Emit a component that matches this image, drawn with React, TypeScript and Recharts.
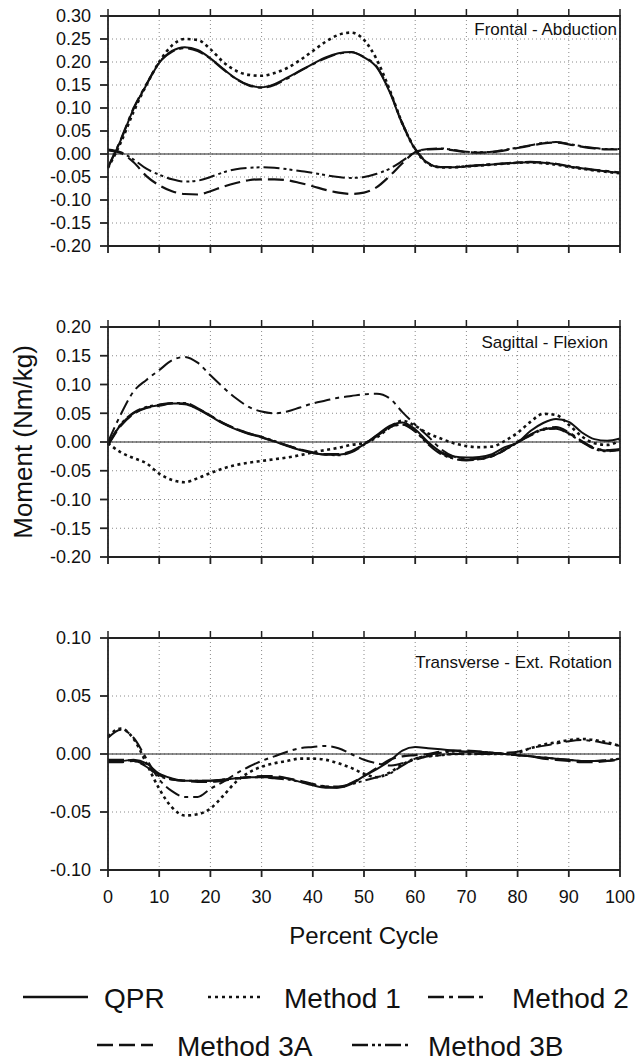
import { CartesianGrid, Line, LineChart, ReferenceLine, XAxis, YAxis } from "recharts"

const pct = [
  0, 2.5, 5, 7.5, 10, 12.5, 15, 17.5, 20, 22.5, 25, 27.5, 30, 32.5, 35, 37.5, 40, 42.5, 45, 47.5, 50,
  52.5, 55, 57.5, 60, 62.5, 65, 67.5, 70, 72.5, 75, 77.5, 80, 82.5, 85, 87.5, 90, 92.5, 95, 97.5, 100,
]
const xTicks = [0, 10, 20, 30, 40, 50, 60, 70, 80, 90, 100]

// Frontal - Abduction
const frontalQPR = [-0.030, 0.030, 0.098, 0.150, 0.198, 0.224, 0.232, 0.226, 0.208, 0.185, 0.164, 0.150, 0.145, 0.152, 0.166, 0.181, 0.196, 0.210, 0.219, 0.222, 0.210, 0.188, 0.135, 0.065, 0.010, -0.020, -0.029, -0.029, -0.027, -0.025, -0.023, -0.021, -0.019, -0.018, -0.019, -0.022, -0.027, -0.031, -0.035, -0.038, -0.041]
const frontalM1 = [-0.030, 0.025, 0.092, 0.150, 0.200, 0.236, 0.250, 0.248, 0.228, 0.200, 0.181, 0.172, 0.170, 0.176, 0.187, 0.204, 0.224, 0.244, 0.259, 0.264, 0.248, 0.205, 0.140, 0.066, 0.010, -0.021, -0.029, -0.029, -0.027, -0.025, -0.023, -0.021, -0.019, -0.018, -0.020, -0.023, -0.028, -0.032, -0.036, -0.039, -0.042]
const frontalM2 = [-0.028, 0.032, 0.100, 0.152, 0.199, 0.222, 0.230, 0.224, 0.207, 0.184, 0.163, 0.149, 0.144, 0.150, 0.164, 0.180, 0.195, 0.208, 0.218, 0.221, 0.211, 0.190, 0.137, 0.067, 0.012, -0.019, -0.028, -0.028, -0.026, -0.024, -0.022, -0.020, -0.018, -0.017, -0.018, -0.021, -0.026, -0.030, -0.034, -0.037, -0.040]
const frontalM3A = [0.008, 0.002, -0.018, -0.048, -0.068, -0.081, -0.087, -0.088, -0.081, -0.071, -0.063, -0.057, -0.055, -0.055, -0.057, -0.063, -0.070, -0.078, -0.084, -0.087, -0.084, -0.072, -0.048, -0.020, 0.004, 0.010, 0.011, 0.008, 0.004, 0.003, 0.004, 0.008, 0.013, 0.018, 0.023, 0.025, 0.021, 0.016, 0.012, 0.010, 0.010]
const frontalM3B = [0.010, 0.004, -0.012, -0.032, -0.045, -0.055, -0.060, -0.058, -0.050, -0.040, -0.033, -0.030, -0.029, -0.030, -0.033, -0.037, -0.041, -0.046, -0.050, -0.052, -0.050, -0.043, -0.032, -0.015, 0.004, 0.011, 0.012, 0.009, 0.005, 0.004, 0.005, 0.009, 0.014, 0.019, 0.024, 0.026, 0.022, 0.017, 0.013, 0.011, 0.011]

// Sagittal - Flexion
const sagQPR = [-0.005, 0.030, 0.050, 0.060, 0.064, 0.067, 0.067, 0.057, 0.045, 0.032, 0.022, 0.014, 0.008, 0.001, -0.007, -0.014, -0.019, -0.022, -0.022, -0.017, -0.004, 0.012, 0.028, 0.034, 0.022, 0.000, -0.017, -0.025, -0.027, -0.026, -0.021, -0.009, -0.001, 0.019, 0.033, 0.040, 0.035, 0.017, 0.005, 0.002, 0.006]
const sagM1 = [-0.002, -0.018, -0.028, -0.037, -0.055, -0.066, -0.070, -0.063, -0.054, -0.046, -0.040, -0.036, -0.033, -0.030, -0.027, -0.023, -0.018, -0.014, -0.010, -0.005, -0.002, 0.008, 0.025, 0.037, 0.028, 0.015, 0.006, -0.002, -0.007, -0.009, -0.008, 0.002, 0.016, 0.035, 0.049, 0.047, 0.030, 0.010, -0.002, -0.005, 0.003]
const sagM2 = [0.000, 0.048, 0.088, 0.108, 0.125, 0.142, 0.148, 0.138, 0.116, 0.095, 0.076, 0.061, 0.053, 0.050, 0.053, 0.060, 0.067, 0.072, 0.077, 0.080, 0.083, 0.084, 0.076, 0.052, 0.030, 0.010, -0.012, -0.025, -0.030, -0.029, -0.025, -0.014, 0.001, 0.013, 0.023, 0.026, 0.017, 0.002, -0.010, -0.014, -0.012]
const sagM3A = [-0.006, 0.028, 0.049, 0.059, 0.063, 0.067, 0.066, 0.058, 0.046, 0.033, 0.023, 0.015, 0.008, 0.001, -0.006, -0.013, -0.018, -0.021, -0.021, -0.016, -0.004, 0.011, 0.026, 0.031, 0.019, -0.002, -0.019, -0.028, -0.031, -0.030, -0.024, -0.013, 0.000, 0.012, 0.022, 0.024, 0.015, 0.001, -0.011, -0.015, -0.013]
const sagM3B = [-0.004, 0.031, 0.051, 0.061, 0.065, 0.068, 0.068, 0.059, 0.046, 0.033, 0.023, 0.015, 0.009, 0.002, -0.006, -0.013, -0.019, -0.022, -0.023, -0.018, -0.005, 0.010, 0.025, 0.030, 0.018, -0.004, -0.021, -0.029, -0.032, -0.030, -0.025, -0.014, -0.001, 0.011, 0.021, 0.023, 0.014, 0.000, -0.012, -0.016, -0.014]

// Transverse - Ext. Rotation
const trQPR = [-0.006, -0.006, -0.005, -0.008, -0.017, -0.021, -0.023, -0.023, -0.023, -0.022, -0.021, -0.020, -0.020, -0.020, -0.021, -0.024, -0.027, -0.029, -0.029, -0.026, -0.019, -0.013, -0.006, 0.003, 0.006, 0.005, 0.004, 0.003, 0.002, 0.002, 0.001, 0.000, -0.001, -0.002, -0.003, -0.004, -0.005, -0.006, -0.006, -0.006, -0.004]
const trM1 = [0.015, 0.022, 0.013, -0.008, -0.030, -0.046, -0.053, -0.052, -0.047, -0.036, -0.024, -0.016, -0.011, -0.008, -0.006, -0.004, -0.004, -0.005, -0.008, -0.012, -0.017, -0.020, -0.016, -0.009, -0.004, -0.002, -0.001, 0.000, 0.000, 0.000, 0.000, 0.000, 0.001, 0.005, 0.008, 0.010, 0.012, 0.013, 0.012, 0.010, 0.007]
const trM2 = [0.014, 0.021, 0.014, -0.004, -0.022, -0.032, -0.037, -0.037, -0.030, -0.024, -0.017, -0.011, -0.006, -0.002, 0.002, 0.005, 0.006, 0.007, 0.005, 0.000, -0.005, -0.008, -0.010, -0.008, -0.005, -0.002, -0.001, 0.000, 0.000, 0.000, 0.000, 0.001, 0.002, 0.005, 0.007, 0.009, 0.011, 0.012, 0.011, 0.009, 0.007]
const trM3A = [-0.007, -0.007, -0.006, -0.010, -0.018, -0.022, -0.023, -0.024, -0.024, -0.023, -0.021, -0.020, -0.019, -0.019, -0.021, -0.023, -0.026, -0.028, -0.029, -0.025, -0.019, -0.012, -0.005, -0.002, -0.001, 0.000, 0.002, 0.003, 0.003, 0.002, 0.001, 0.000, -0.001, -0.002, -0.004, -0.005, -0.006, -0.007, -0.007, -0.006, -0.005]
const trM3B = [-0.005, -0.005, -0.006, -0.011, -0.019, -0.022, -0.023, -0.023, -0.023, -0.022, -0.021, -0.020, -0.020, -0.021, -0.022, -0.024, -0.026, -0.028, -0.028, -0.026, -0.023, -0.020, -0.017, -0.010, -0.004, -0.001, 0.001, 0.002, 0.002, 0.002, 0.001, 0.000, -0.001, -0.002, -0.003, -0.004, -0.005, -0.006, -0.006, -0.005, -0.004]

const frontalTicks = [0.3, 0.25, 0.2, 0.15, 0.1, 0.05, 0, -0.05, -0.1, -0.15, -0.2]
const sagTicks = [0.2, 0.15, 0.1, 0.05, 0, -0.05, -0.1, -0.15, -0.2]
const trTicks = [0.1, 0.05, 0, -0.05, -0.1]

const seriesNames = ["QPR", "Method 1", "Method 2", "Method 3A", "Method 3B"]
const dashes = ["", "3 3.5", "16 5 4 5", "16 6", "16 4 3 3 3 4"]
const widths = [2, 2.6, 2, 2.2, 2]

const FONT = "'Liberation Sans', Arial, Helvetica, sans-serif"

// layout, page pixels
const PLOT_LEFT = 108
const PLOT_RIGHT = 620
const PANEL_TOP = 16
const panels = [
  { top: 0, plotH: 230 },
  { top: 311, plotH: 230 },
  { top: 622, plotH: 232 },
]

function table(cols: number[][]) {
  return pct.map((p, i) => {
    const row: Record<string, number> = { pct: p }
    cols.forEach((c, k) => (row[seriesNames[k]] = c[i]))
    return row
  })
}

type PanelProps = {
  cols: number[][]
  yTicks: number[]
  top: number
  plotH: number
  showX: boolean
}

function Panel({ cols, yTicks, top, plotH, showX }: PanelProps) {
  const bottomH = showX ? 40 : 14
  const data = table(cols)
  const lo = yTicks[yTicks.length - 1]
  const hi = yTicks[0]
  return (
    <div style={{ position: "absolute", left: 0, top }}>
      <LineChart
        width={636}
        height={PANEL_TOP + plotH + bottomH}
        data={data}
        margin={{ top: PANEL_TOP, right: 636 - PLOT_RIGHT, bottom: 0, left: 0 }}
      >
        <CartesianGrid stroke="#8a8a8a" strokeDasharray="1 3" />
        <XAxis
          dataKey="pct"
          type="number"
          domain={[0, 100]}
          ticks={xTicks}
          height={bottomH}
          tickSize={7}
          tickMargin={13}
          stroke="#222"
          strokeWidth={1.8}
          interval={0}
          tick={{ fill: "#111", fontSize: 18, fontFamily: FONT }}
          tickFormatter={(v) => (showX ? String(v) : "")}
        />
        <YAxis
          type="number"
          domain={[lo, hi]}
          ticks={yTicks}
          width={PLOT_LEFT}
          tickSize={8}
          tickMargin={9}
          stroke="#222"
          strokeWidth={1.8}
          interval={0}
          tick={{ fill: "#111", fontSize: 18, fontFamily: FONT }}
          tickFormatter={(v: number) => v.toFixed(2)}
        />
        <ReferenceLine y={0} stroke="#222" strokeWidth={1.2} />
        {seriesNames.map((name, k) => (
          <Line
            key={name}
            type="monotone"
            dataKey={name}
            stroke="#111"
            strokeWidth={widths[k]}
            strokeDasharray={dashes[k] || undefined}
            dot={false}
            activeDot={false}
            isAnimationActive={false}
          />
        ))}
      </LineChart>
    </div>
  )
}

function Frames() {
  const xAt = (v: number) => PLOT_LEFT + ((PLOT_RIGHT - PLOT_LEFT) * v) / 100
  return (
    <>
      {panels.map((p, i) => {
        const y0 = p.top + PANEL_TOP
        return (
          <g key={i}>
            <path
              d={`M${PLOT_LEFT},${y0} H${PLOT_RIGHT} V${y0 + p.plotH}`}
              fill="none"
              stroke="#222"
              strokeWidth={1.8}
            />
            {xTicks.map((t) => (
              <line key={t} x1={xAt(t)} x2={xAt(t)} y1={y0 - 7} y2={y0} stroke="#222" strokeWidth={1.5} />
            ))}
          </g>
        )
      })}
    </>
  )
}

function Legend() {
  const row1 = 997
  const row2 = 1045
  const items = [
    { x1: 23, x2: 88, tx: 104, y: row1, k: 0 },
    { x1: 208, x2: 264, tx: 284, y: row1, k: 1 },
    { x1: 428, x2: 488, tx: 512, y: row1, k: 2 },
    { x1: 97, x2: 153, tx: 177, y: row2, k: 3 },
    { x1: 352, x2: 410, tx: 428, y: row2, k: 4 },
  ]
  return (
    <>
      {items.map((it) => (
        <g key={it.k}>
          <line
            x1={it.x1}
            x2={it.x2}
            y1={it.y}
            y2={it.y}
            stroke="#111"
            strokeWidth={2.4}
            strokeDasharray={dashes[it.k] ? (it.k === 1 ? "3 4" : dashes[it.k]) : undefined}
          />
          <text x={it.tx} y={it.y + 11} fontSize={28} fill="#111" fontFamily={FONT}>
            {seriesNames[it.k]}
          </text>
        </g>
      ))}
    </>
  )
}

export default function App() {
  return (
    <div style={{ position: "absolute", left: 0, top: 0, width: 636, height: 1062, background: "#fff" }}>
      <Panel cols={[frontalQPR, frontalM1, frontalM2, frontalM3A, frontalM3B]} yTicks={frontalTicks} top={panels[0].top} plotH={panels[0].plotH} showX={false} />
      <Panel cols={[sagQPR, sagM1, sagM2, sagM3A, sagM3B]} yTicks={sagTicks} top={panels[1].top} plotH={panels[1].plotH} showX={false} />
      <Panel cols={[trQPR, trM1, trM2, trM3A, trM3B]} yTicks={trTicks} top={panels[2].top} plotH={panels[2].plotH} showX={true} />
      <svg
        width={636}
        height={1062}
        style={{ position: "absolute", left: 0, top: 0, pointerEvents: "none" }}
        fontFamily={FONT}
      >
        <Frames />
        <text x={617} y={35} textAnchor="end" fontSize={17} fill="#111">
          Frontal - Abduction
        </text>
        <text x={608} y={348} textAnchor="end" fontSize={17} fill="#111">
          Sagittal - Flexion
        </text>
        <text x={612} y={668} textAnchor="end" fontSize={17} fill="#111">
          Transverse - Ext. Rotation
        </text>
        <text x={364} y={944} textAnchor="middle" fontSize={24} fill="#111">
          Percent Cycle
        </text>
        <text
          x={0}
          y={0}
          transform="translate(32, 442) rotate(-90)"
          textAnchor="middle"
          fontSize={26}
          fill="#111"
        >
          Moment (Nm/kg)
        </text>
        <Legend />
      </svg>
    </div>
  )
}
